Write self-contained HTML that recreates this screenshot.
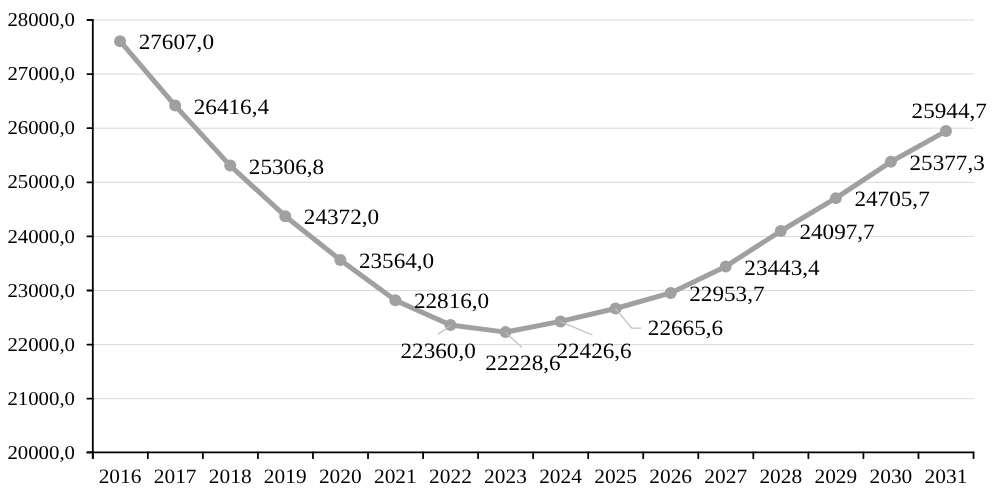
<!DOCTYPE html><html><head><meta charset="utf-8"><style>html,body{margin:0;padding:0;background:#fff;width:1000px;height:504px;overflow:hidden}svg{display:block;will-change:transform}text{font-family:"Liberation Serif",serif;fill:#000;text-rendering:geometricPrecision}</style></head><body>
<svg width="1000" height="504" viewBox="0 0 1000 504">
<rect width="1000" height="504" fill="#fff"/>
<line x1="93.55" y1="20.02" x2="974.01" y2="20.02" stroke="#D9D9D9" stroke-width="1.0"/>
<line x1="93.55" y1="74.11" x2="974.01" y2="74.11" stroke="#D9D9D9" stroke-width="1.0"/>
<line x1="93.55" y1="128.21" x2="974.01" y2="128.21" stroke="#D9D9D9" stroke-width="1.0"/>
<line x1="93.55" y1="182.30" x2="974.01" y2="182.30" stroke="#D9D9D9" stroke-width="1.0"/>
<line x1="93.55" y1="236.40" x2="974.01" y2="236.40" stroke="#D9D9D9" stroke-width="1.0"/>
<line x1="93.55" y1="290.50" x2="974.01" y2="290.50" stroke="#D9D9D9" stroke-width="1.0"/>
<line x1="93.55" y1="344.59" x2="974.01" y2="344.59" stroke="#D9D9D9" stroke-width="1.0"/>
<line x1="93.55" y1="398.69" x2="974.01" y2="398.69" stroke="#D9D9D9" stroke-width="1.0"/>
<line x1="92.80" y1="20.02" x2="92.80" y2="458.20" stroke="#000" stroke-width="1.8" stroke-linecap="round"/>
<line x1="87.40" y1="452.4" x2="973.51" y2="452.4" stroke="#000" stroke-width="1.8" stroke-linecap="round"/>
<line x1="87.40" y1="20.02" x2="92.80" y2="20.02" stroke="#000" stroke-width="1.8" stroke-linecap="round"/>
<line x1="87.40" y1="74.11" x2="92.80" y2="74.11" stroke="#000" stroke-width="1.8" stroke-linecap="round"/>
<line x1="87.40" y1="128.21" x2="92.80" y2="128.21" stroke="#000" stroke-width="1.8" stroke-linecap="round"/>
<line x1="87.40" y1="182.30" x2="92.80" y2="182.30" stroke="#000" stroke-width="1.8" stroke-linecap="round"/>
<line x1="87.40" y1="236.40" x2="92.80" y2="236.40" stroke="#000" stroke-width="1.8" stroke-linecap="round"/>
<line x1="87.40" y1="290.50" x2="92.80" y2="290.50" stroke="#000" stroke-width="1.8" stroke-linecap="round"/>
<line x1="87.40" y1="344.59" x2="92.80" y2="344.59" stroke="#000" stroke-width="1.8" stroke-linecap="round"/>
<line x1="87.40" y1="398.69" x2="92.80" y2="398.69" stroke="#000" stroke-width="1.8" stroke-linecap="round"/>
<line x1="87.40" y1="452.40" x2="92.80" y2="452.40" stroke="#000" stroke-width="1.8" stroke-linecap="round"/>
<line x1="92.80" y1="452.4" x2="92.80" y2="458.20" stroke="#000" stroke-width="1.8" stroke-linecap="round"/>
<line x1="147.84" y1="452.4" x2="147.84" y2="458.20" stroke="#000" stroke-width="1.8" stroke-linecap="round"/>
<line x1="202.89" y1="452.4" x2="202.89" y2="458.20" stroke="#000" stroke-width="1.8" stroke-linecap="round"/>
<line x1="257.93" y1="452.4" x2="257.93" y2="458.20" stroke="#000" stroke-width="1.8" stroke-linecap="round"/>
<line x1="312.98" y1="452.4" x2="312.98" y2="458.20" stroke="#000" stroke-width="1.8" stroke-linecap="round"/>
<line x1="368.02" y1="452.4" x2="368.02" y2="458.20" stroke="#000" stroke-width="1.8" stroke-linecap="round"/>
<line x1="423.07" y1="452.4" x2="423.07" y2="458.20" stroke="#000" stroke-width="1.8" stroke-linecap="round"/>
<line x1="478.11" y1="452.4" x2="478.11" y2="458.20" stroke="#000" stroke-width="1.8" stroke-linecap="round"/>
<line x1="533.15" y1="452.4" x2="533.15" y2="458.20" stroke="#000" stroke-width="1.8" stroke-linecap="round"/>
<line x1="588.20" y1="452.4" x2="588.20" y2="458.20" stroke="#000" stroke-width="1.8" stroke-linecap="round"/>
<line x1="643.24" y1="452.4" x2="643.24" y2="458.20" stroke="#000" stroke-width="1.8" stroke-linecap="round"/>
<line x1="698.29" y1="452.4" x2="698.29" y2="458.20" stroke="#000" stroke-width="1.8" stroke-linecap="round"/>
<line x1="753.33" y1="452.4" x2="753.33" y2="458.20" stroke="#000" stroke-width="1.8" stroke-linecap="round"/>
<line x1="808.38" y1="452.4" x2="808.38" y2="458.20" stroke="#000" stroke-width="1.8" stroke-linecap="round"/>
<line x1="863.42" y1="452.4" x2="863.42" y2="458.20" stroke="#000" stroke-width="1.8" stroke-linecap="round"/>
<line x1="918.47" y1="452.4" x2="918.47" y2="458.20" stroke="#000" stroke-width="1.8" stroke-linecap="round"/>
<line x1="973.51" y1="452.4" x2="973.51" y2="458.20" stroke="#000" stroke-width="1.8" stroke-linecap="round"/>
<polyline points="120.08,41.18 175.14,105.58 230.20,165.61 285.26,216.18 340.32,259.89 395.38,300.35 450.44,325.02 505.50,332.12 560.56,321.41 615.62,308.48 670.68,292.90 725.74,266.41 780.80,231.01 835.86,198.13 890.92,161.79 945.98,131.10" fill="none" stroke="#A0A0A0" stroke-width="5.0" stroke-linejoin="round" stroke-linecap="round"/>
<circle cx="120.08" cy="41.18" r="6.0" fill="#A0A0A0"/>
<circle cx="175.14" cy="105.58" r="6.0" fill="#A0A0A0"/>
<circle cx="230.20" cy="165.61" r="6.0" fill="#A0A0A0"/>
<circle cx="285.26" cy="216.18" r="6.0" fill="#A0A0A0"/>
<circle cx="340.32" cy="259.89" r="6.0" fill="#A0A0A0"/>
<circle cx="395.38" cy="300.35" r="6.0" fill="#A0A0A0"/>
<circle cx="450.44" cy="325.02" r="6.0" fill="#A0A0A0"/>
<circle cx="505.50" cy="332.12" r="6.0" fill="#A0A0A0"/>
<circle cx="560.56" cy="321.41" r="6.0" fill="#A0A0A0"/>
<circle cx="615.62" cy="308.48" r="6.0" fill="#A0A0A0"/>
<circle cx="670.68" cy="292.90" r="6.0" fill="#A0A0A0"/>
<circle cx="725.74" cy="266.41" r="6.0" fill="#A0A0A0"/>
<circle cx="780.80" cy="231.01" r="6.0" fill="#A0A0A0"/>
<circle cx="835.86" cy="198.13" r="6.0" fill="#A0A0A0"/>
<circle cx="890.92" cy="161.79" r="6.0" fill="#A0A0A0"/>
<circle cx="945.98" cy="131.10" r="6.0" fill="#A0A0A0"/>
<polyline points="450.6,325.2 438.0,334.6" fill="none" stroke="#BFBFBF" stroke-width="1.25"/>
<polyline points="505.5,332.4 522.1,347.6" fill="none" stroke="#BFBFBF" stroke-width="1.25"/>
<polyline points="560.4,321.6 592.4,335.0" fill="none" stroke="#BFBFBF" stroke-width="1.25"/>
<polyline points="615.4,308.3 631.7,328.1 641.1,328.1" fill="none" stroke="#BFBFBF" stroke-width="1.25"/>
<text x="7.4" y="26.40" font-size="19.7" textLength="67.6" lengthAdjust="spacingAndGlyphs">28000,0</text>
<text x="7.4" y="80.43" font-size="19.7" textLength="67.6" lengthAdjust="spacingAndGlyphs">27000,0</text>
<text x="7.4" y="134.46" font-size="19.7" textLength="67.6" lengthAdjust="spacingAndGlyphs">26000,0</text>
<text x="7.4" y="188.49" font-size="19.7" textLength="67.6" lengthAdjust="spacingAndGlyphs">25000,0</text>
<text x="7.4" y="242.52" font-size="19.7" textLength="67.6" lengthAdjust="spacingAndGlyphs">24000,0</text>
<text x="7.4" y="296.55" font-size="19.7" textLength="67.6" lengthAdjust="spacingAndGlyphs">23000,0</text>
<text x="7.4" y="350.58" font-size="19.7" textLength="67.6" lengthAdjust="spacingAndGlyphs">22000,0</text>
<text x="7.4" y="404.61" font-size="19.7" textLength="67.6" lengthAdjust="spacingAndGlyphs">21000,0</text>
<text x="7.4" y="458.64" font-size="19.7" textLength="67.6" lengthAdjust="spacingAndGlyphs">20000,0</text>
<text x="120.08" y="483.3" font-size="20.4" text-anchor="middle" textLength="42.8" lengthAdjust="spacingAndGlyphs">2016</text>
<text x="175.14" y="483.3" font-size="20.4" text-anchor="middle" textLength="42.8" lengthAdjust="spacingAndGlyphs">2017</text>
<text x="230.20" y="483.3" font-size="20.4" text-anchor="middle" textLength="42.8" lengthAdjust="spacingAndGlyphs">2018</text>
<text x="285.26" y="483.3" font-size="20.4" text-anchor="middle" textLength="42.8" lengthAdjust="spacingAndGlyphs">2019</text>
<text x="340.32" y="483.3" font-size="20.4" text-anchor="middle" textLength="42.8" lengthAdjust="spacingAndGlyphs">2020</text>
<text x="395.38" y="483.3" font-size="20.4" text-anchor="middle" textLength="42.8" lengthAdjust="spacingAndGlyphs">2021</text>
<text x="450.44" y="483.3" font-size="20.4" text-anchor="middle" textLength="42.8" lengthAdjust="spacingAndGlyphs">2022</text>
<text x="505.50" y="483.3" font-size="20.4" text-anchor="middle" textLength="42.8" lengthAdjust="spacingAndGlyphs">2023</text>
<text x="560.56" y="483.3" font-size="20.4" text-anchor="middle" textLength="42.8" lengthAdjust="spacingAndGlyphs">2024</text>
<text x="615.62" y="483.3" font-size="20.4" text-anchor="middle" textLength="42.8" lengthAdjust="spacingAndGlyphs">2025</text>
<text x="670.68" y="483.3" font-size="20.4" text-anchor="middle" textLength="42.8" lengthAdjust="spacingAndGlyphs">2026</text>
<text x="725.74" y="483.3" font-size="20.4" text-anchor="middle" textLength="42.8" lengthAdjust="spacingAndGlyphs">2027</text>
<text x="780.80" y="483.3" font-size="20.4" text-anchor="middle" textLength="42.8" lengthAdjust="spacingAndGlyphs">2028</text>
<text x="835.86" y="483.3" font-size="20.4" text-anchor="middle" textLength="42.8" lengthAdjust="spacingAndGlyphs">2029</text>
<text x="890.92" y="483.3" font-size="20.4" text-anchor="middle" textLength="42.8" lengthAdjust="spacingAndGlyphs">2030</text>
<text x="945.98" y="483.3" font-size="20.4" text-anchor="middle" textLength="42.8" lengthAdjust="spacingAndGlyphs">2031</text>
<text x="138.68" y="49.38" font-size="21.9" textLength="75.3" lengthAdjust="spacingAndGlyphs">27607,0</text>
<text x="193.74" y="113.78" font-size="21.9" textLength="75.3" lengthAdjust="spacingAndGlyphs">26416,4</text>
<text x="248.80" y="173.81" font-size="21.9" textLength="75.3" lengthAdjust="spacingAndGlyphs">25306,8</text>
<text x="303.86" y="224.38" font-size="21.9" textLength="75.3" lengthAdjust="spacingAndGlyphs">24372,0</text>
<text x="358.92" y="268.09" font-size="21.9" textLength="75.3" lengthAdjust="spacingAndGlyphs">23564,0</text>
<text x="413.90" y="308.00" font-size="21.9" textLength="75.3" lengthAdjust="spacingAndGlyphs">22816,0</text>
<text x="400.50" y="358.20" font-size="21.9" textLength="75.3" lengthAdjust="spacingAndGlyphs">22360,0</text>
<text x="485.30" y="370.40" font-size="21.9" textLength="75.3" lengthAdjust="spacingAndGlyphs">22228,6</text>
<text x="556.40" y="358.20" font-size="21.9" textLength="75.3" lengthAdjust="spacingAndGlyphs">22426,6</text>
<text x="647.80" y="335.00" font-size="21.9" textLength="75.3" lengthAdjust="spacingAndGlyphs">22665,6</text>
<text x="689.28" y="301.10" font-size="21.9" textLength="75.3" lengthAdjust="spacingAndGlyphs">22953,7</text>
<text x="744.34" y="274.61" font-size="21.9" textLength="75.3" lengthAdjust="spacingAndGlyphs">23443,4</text>
<text x="799.40" y="239.21" font-size="21.9" textLength="75.3" lengthAdjust="spacingAndGlyphs">24097,7</text>
<text x="854.46" y="206.33" font-size="21.9" textLength="75.3" lengthAdjust="spacingAndGlyphs">24705,7</text>
<text x="909.52" y="169.99" font-size="21.9" textLength="75.3" lengthAdjust="spacingAndGlyphs">25377,3</text>
<text x="911.60" y="117.50" font-size="21.9" textLength="75.3" lengthAdjust="spacingAndGlyphs">25944,7</text>
</svg></body></html>
